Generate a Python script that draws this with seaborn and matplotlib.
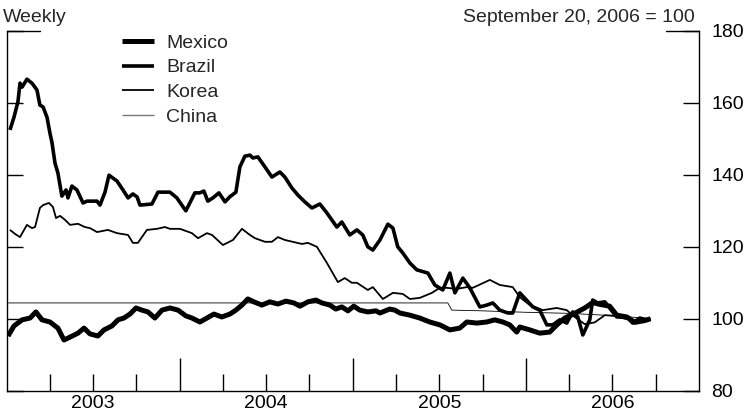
import matplotlib
matplotlib.use("Agg")
import matplotlib.pyplot as plt
from matplotlib.ticker import FixedLocator, FuncFormatter
import pandas as pd
import seaborn as sns

# Exchange rates against the U.S. dollar, index (September 20, 2006 = 100).
# Time is expressed in decimal years.
mexico_t = [2003.009, 2003.043, 2003.090, 2003.136, 2003.170, 2003.205, 2003.251, 2003.297,
            2003.332, 2003.367, 2003.413, 2003.448, 2003.482, 2003.528, 2003.563, 2003.609,
            2003.644, 2003.678, 2003.713, 2003.748, 2003.782, 2003.817, 2003.857, 2003.898,
            2003.944, 2003.991, 2004.036, 2004.071, 2004.117, 2004.158, 2004.198, 2004.244,
            2004.290, 2004.325, 2004.360, 2004.394, 2004.429, 2004.475, 2004.521, 2004.568,
            2004.614, 2004.660, 2004.695, 2004.741, 2004.787, 2004.822, 2004.868, 2004.902,
            2004.937, 2004.972, 2005.006, 2005.041, 2005.087, 2005.134, 2005.157, 2005.214,
            2005.243, 2005.272, 2005.330, 2005.387, 2005.445, 2005.503, 2005.561, 2005.618,
            2005.659, 2005.717, 2005.774, 2005.820, 2005.867, 2005.907, 2005.947, 2005.965,
            2006.023, 2006.080, 2006.138, 2006.179, 2006.225, 2006.282, 2006.340, 2006.386,
            2006.427, 2006.484, 2006.525, 2006.583, 2006.629, 2006.687, 2006.720]
mexico_v = [95.2, 98.0, 99.7, 100.2, 101.9, 99.7, 99.1, 97.4,
            94.1, 94.9, 96.0, 97.4, 95.8, 95.2, 96.9, 98.0,
            99.7, 100.2, 101.3, 103.0, 102.4, 101.9, 100.2, 102.4,
            103.0, 102.4, 100.8, 100.2, 99.1, 100.2, 101.3, 100.5,
            101.3, 102.4, 103.8, 105.5, 104.7, 103.8, 104.7, 104.1,
            104.9, 104.4, 103.5, 104.7, 105.2, 104.4, 103.8, 102.7,
            103.3, 102.2, 103.5, 102.4, 101.9, 102.2, 101.6, 102.7,
            102.4, 101.6, 101.0, 100.2, 99.1, 98.3, 96.9, 97.4,
            99.1, 98.8, 99.1, 99.7, 99.1, 98.3, 96.3, 97.7,
            96.9, 96.0, 96.3, 98.3, 100.2, 101.5, 103.0, 104.5,
            104.0, 103.5, 101.0, 100.5, 99.0, 99.5, 100.0]

brazil_t = [2003.020, 2003.043, 2003.066, 2003.078, 2003.090, 2003.118, 2003.147, 2003.176,
            2003.193, 2003.211, 2003.234, 2003.251, 2003.263, 2003.280, 2003.297, 2003.320,
            2003.344, 2003.355, 2003.378, 2003.407, 2003.442, 2003.465, 2003.523, 2003.540,
            2003.569, 2003.592, 2003.638, 2003.673, 2003.702, 2003.730, 2003.754, 2003.771,
            2003.840, 2003.875, 2003.944, 2003.984, 2004.036, 2004.088, 2004.117, 2004.140,
            2004.163, 2004.192, 2004.227, 2004.262, 2004.290, 2004.325, 2004.348, 2004.377,
            2004.406, 2004.423, 2004.452, 2004.493, 2004.533, 2004.579, 2004.608, 2004.648,
            2004.683, 2004.723, 2004.764, 2004.810, 2004.851, 2004.908, 2004.937, 2004.983,
            2005.024, 2005.058, 2005.087, 2005.116, 2005.157, 2005.203, 2005.232, 2005.260,
            2005.289, 2005.330, 2005.370, 2005.434, 2005.474, 2005.520, 2005.561, 2005.590,
            2005.636, 2005.676, 2005.734, 2005.774, 2005.809, 2005.849, 2005.896, 2005.924,
            2005.965, 2006.040, 2006.080, 2006.121, 2006.155, 2006.196, 2006.236, 2006.271,
            2006.300, 2006.329, 2006.369, 2006.386, 2006.415, 2006.456, 2006.484, 2006.525,
            2006.583, 2006.617, 2006.658, 2006.698, 2006.720]
brazil_v = [152.5, 156.0, 160.3, 165.5, 164.4, 166.6, 165.5, 163.6,
            159.4, 158.9, 156.0, 151.6, 148.9, 143.3, 140.5, 134.1,
            135.8, 133.6, 136.9, 135.8, 132.2, 132.7, 132.7, 131.6,
            135.2, 139.9, 138.3, 135.8, 133.6, 134.7, 133.9, 131.6,
            131.9, 135.2, 135.2, 133.6, 130.0, 135.0, 135.0, 135.5,
            132.7, 133.6, 135.0, 132.5, 133.9, 135.2, 142.2, 145.2,
            145.5, 144.7, 145.0, 142.2, 139.4, 140.8, 139.4, 136.4,
            134.4, 132.5, 130.8, 131.9, 129.4, 125.5, 126.9, 123.3,
            124.7, 123.3, 120.0, 119.1, 121.9, 126.3, 125.2, 120.0,
            118.3, 115.5, 113.6, 112.7, 109.4, 108.0, 112.7, 107.2,
            111.3, 108.6, 103.3, 103.8, 104.4, 102.4, 101.6, 101.6,
            107.2, 103.3, 102.4, 98.3, 98.3, 99.7, 98.8, 101.9,
            100.5, 95.5, 99.7, 105.2, 104.4, 104.7, 103.0, 100.5,
            100.5, 98.8, 100.2, 99.7, 100.0]

korea_t = [2003.020, 2003.049, 2003.078, 2003.118, 2003.147, 2003.165, 2003.193, 2003.211,
           2003.245, 2003.268, 2003.286, 2003.309, 2003.338, 2003.367, 2003.413, 2003.453,
           2003.482, 2003.523, 2003.586, 2003.638, 2003.702, 2003.730, 2003.759, 2003.811,
           2003.869, 2003.915, 2003.944, 2004.002, 2004.071, 2004.106, 2004.158, 2004.187,
           2004.250, 2004.308, 2004.360, 2004.406, 2004.435, 2004.493, 2004.533, 2004.568,
           2004.608, 2004.706, 2004.741, 2004.793, 2004.851, 2004.914, 2004.954, 2004.995,
           2005.024, 2005.087, 2005.116, 2005.174, 2005.232, 2005.289, 2005.330, 2005.387,
           2005.457, 2005.503, 2005.543, 2005.601, 2005.659, 2005.693, 2005.792, 2005.849,
           2005.924, 2005.965, 2006.023, 2006.098, 2006.178, 2006.236, 2006.282, 2006.340,
           2006.398, 2006.456, 2006.513, 2006.571, 2006.629, 2006.687, 2006.720]
korea_v = [124.7, 123.6, 122.7, 126.1, 125.2, 125.5, 130.8, 131.6,
           132.2, 131.1, 128.0, 128.6, 127.5, 126.1, 126.4, 125.5,
           125.2, 124.1, 124.7, 123.8, 123.3, 121.1, 121.1, 124.7,
           125.0, 125.5, 125.0, 125.0, 123.8, 122.4, 123.8, 123.3,
           120.5, 121.9, 125.0, 123.3, 122.4, 121.4, 121.4, 122.7,
           121.9, 120.8, 121.1, 120.0, 115.5, 110.2, 111.3, 110.0,
           110.0, 108.0, 108.8, 105.5, 107.2, 106.9, 105.5, 105.8,
           107.2, 108.6, 108.6, 108.3, 108.8, 108.6, 110.8, 109.4,
           108.8, 106.0, 103.8, 102.4, 103.0, 102.4, 100.5, 98.5,
           99.0, 101.0, 100.8, 100.0, 99.5, 100.0, 100.0]

china_t = [2003.010, 2005.549, 2005.572, 2005.750, 2006.000, 2006.250, 2006.450, 2006.600, 2006.720]
china_v = [104.4, 104.4, 102.4, 102.2, 101.8, 101.5, 101.0, 100.5, 100.0]

series_names = ["Mexico", "Brazil", "Korea", "China"]
line_widths = {"Mexico": 3.6, "Brazil": 2.6, "Korea": 1.3, "China": 0.6}
y_ticks = [80, 100, 120, 140, 160, 180]
year_labels = [2003, 2004, 2005, 2006]

frames = []
for name, t, v in [("Mexico", mexico_t, mexico_v), ("Brazil", brazil_t, brazil_v),
                   ("Korea", korea_t, korea_v), ("China", china_t, china_v)]:
    frames.append(pd.DataFrame({"time": t, "index": v, "country": name}))
data = pd.concat(frames, ignore_index=True)

sns.set_theme(style="white")
plt.rcParams["font.family"] = ["Liberation Sans", "DejaVu Sans"]

fig = plt.figure(figsize=(7.47, 4.20), dpi=100)
ax = fig.add_axes([6.5 / 747, 1 - 390.7 / 420, (699 - 6.5) / 747, (390.7 - 31) / 420])

z = {"Mexico": 5, "Brazil": 4, "Korea": 3, "China": 2}
for name in series_names:
    sub = data[data["country"] == name]
    sns.lineplot(data=sub, x="time", y="index", ax=ax, color="black",
                 linewidth=line_widths[name], label=name, zorder=z[name],
                 solid_joinstyle="round", solid_capstyle="butt")

ax.set_xlim(2003, 2007)
ax.set_ylim(80, 180)
ax.set_xlabel("")
ax.set_ylabel("")

for side in ["left", "right", "bottom"]:
    ax.spines[side].set_visible(True)
    ax.spines[side].set_color("black")
    ax.spines[side].set_linewidth(1.0)
ax.spines["top"].set_visible(False)

# Short segments closing the frame at the top corners
ax.axhline(180, 0, 0.048, color="black", lw=1.0, clip_on=False)
ax.axhline(180, 0.952, 1, color="black", lw=1.0, clip_on=False)

ax.yaxis.set_major_locator(FixedLocator(y_ticks))
ax.tick_params(axis="y", which="major", left=True, right=True, labelleft=False,
               labelright=True, direction="in", length=11.5, width=1.0,
               labelsize=14, pad=9, colors="black")

# Year boundaries as long ticks, quarters as short ticks; year names sit mid-year
ax.xaxis.set_major_locator(FixedLocator([2004, 2005, 2006]))
ax.xaxis.set_major_formatter(FuncFormatter(lambda v, p: ""))
quarters = [y + q for y in year_labels for q in (0.25, 0.5, 0.75)]
ax.xaxis.set_minor_locator(FixedLocator(quarters))
ax.xaxis.set_minor_formatter(
    FuncFormatter(lambda v, p: str(int(v)) if abs(v % 1 - 0.5) < 1e-6 else ""))
ax.tick_params(axis="x", which="major", bottom=True, direction="in",
               length=23.8, width=1.0, colors="black")
ax.tick_params(axis="x", which="minor", bottom=True, direction="in",
               length=12.2, width=1.0, labelsize=14, pad=3, colors="black")

ax.grid(False)

handles, labels = ax.get_legend_handles_labels()
leg = ax.legend(handles, labels, loc="upper left", bbox_to_anchor=(122 / 747, 1 - 34 / 420),
                bbox_transform=fig.transFigure, frameon=False, borderpad=0, borderaxespad=0,
                handlelength=1.65, handletextpad=0.62, labelspacing=0.37, fontsize=14)
leg.get_lines()[3].set_color("#777777")
leg.get_lines()[3].set_linewidth(1.0)

fig.text(3 / 747, 1 - 21.5 / 420, "Weekly", ha="left", va="baseline", fontsize=14)
fig.text(695 / 747, 1 - 21.5 / 420, "September 20, 2006 = 100", ha="right",
         va="baseline", fontsize=14)

fig.savefig("out.png", dpi=100)
